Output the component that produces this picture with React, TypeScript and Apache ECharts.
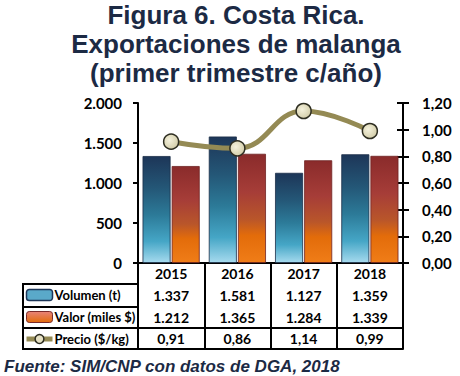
import React, { useEffect, useRef } from 'react';
import * as echarts from 'echarts';

const years = ['2015', '2016', '2017', '2018'];
const volumen = [1337, 1581, 1127, 1359];
const valor = [1212, 1365, 1284, 1339];
const precio = [0.91, 0.86, 1.14, 0.99];
const seriesNames = ['Volumen (t)', 'Valor (miles $)', 'Precio ($/kg)'];
const titleText = 'Figura 6. Costa Rica.\nExportaciones de malanga\n(primer trimestre c/año)';
const sourceText = 'Fuente: SIM/CNP con datos de DGA, 2018';

const thousands = (n: number) => String(Math.round(n)).replace(/\B(?=(\d{3})+(?!\d))/g, '.');
const decimal = (n: number) => n.toFixed(2).replace('.', ',');

const GRID = { left: 138, right: 57, top: 103, bottom: 113 };
const TABLE_LEFT = 23;
const ROW_LINES = [21, 44, 65, 86]; // offsets below the x axis

const cellFont = { fontFamily: 'Lato', fontWeight: 'bold' as const, fontSize: 14, color: '#000' };

export default function App() {
  const ref = useRef<HTMLDivElement>(null);
  useEffect(() => {
    if (!ref.current) return;
    const chart = echarts.init(ref.current, null, { renderer: 'svg' });

    const blueGrad = new echarts.graphic.LinearGradient(0, 0, 0, 1, [
      { offset: 0, color: '#1d3658' },
      { offset: 0.3, color: '#245777' },
      { offset: 0.55, color: '#2c7a98' },
      { offset: 0.8, color: '#45a6c6' },
      { offset: 1, color: '#a6daee' },
    ]);
    const redGrad = new echarts.graphic.LinearGradient(0, 0, 0, 1, [
      { offset: 0, color: '#8a2b2b' },
      { offset: 0.35, color: '#a63d38' },
      { offset: 0.6, color: '#b9562a' },
      { offset: 0.75, color: '#e36c0a' },
      { offset: 1, color: '#f07d18' },
    ]);
    const dotGrad = new echarts.graphic.RadialGradient(0.4, 0.4, 0.7, [
      { offset: 0, color: '#f4f1dc' },
      { offset: 1, color: '#cfc9a3' },
    ]);

    const rowAxis = (offset: number, values: number[] | null, fmt: (n: number) => string, margin: number) => ({
      type: 'category',
      gridIndex: 0,
      position: 'bottom',
      offset,
      data: years,
      axisLine: { show: true, lineStyle: { color: '#000', width: 2 } },
      axisTick: { show: false },
      splitLine: { show: false },
      axisLabel: {
        show: !!values,
        interval: 0,
        margin,
        verticalAlign: 'middle',
        formatter: (_v: string, i: number) => (values ? fmt(values[i]) : ''),
        ...cellFont,
      },
    });

    const lineY = (k: number) => 376 - GRID.bottom + ROW_LINES[k];

    chart.setOption({
      animation: false,
      backgroundColor: '#fff',
      title: [
        {
          text: titleText,
          left: 236,
          top: 0,
          padding: 0,
          textAlign: 'center',
          textStyle: {
            fontFamily: 'Liberation Sans',
            fontWeight: 'bold',
            fontSize: 26,
            lineHeight: 29,
            color: '#1c2a44',
          },
        },
        {
          text: sourceText,
          left: 4,
          top: 357,
          padding: 0,
          textStyle: {
            fontFamily: 'Liberation Sans',
            fontWeight: 'bold',
            fontStyle: 'italic',
            fontSize: 17,
            lineHeight: 18,
            color: '#1c2a44',
          },
        },
      ],
      legend: {
        orient: 'vertical',
        left: 24,
        top: 288,
        padding: 0,
        itemWidth: 26,
        itemHeight: 11,
        itemGap: 8,
        textStyle: { ...cellFont, fontSize: 13, lineHeight: 14, padding: [0, 0, 0, -3] },
        data: [
          { name: seriesNames[0], itemStyle: { color: '#5aa9c9', borderColor: '#1d3658', borderWidth: 1.5 } },
          {
            name: seriesNames[1],
            itemStyle: {
              color: new echarts.graphic.LinearGradient(0, 0, 0, 1, [
                { offset: 0, color: '#e8837a' },
                { offset: 1, color: '#e36c0a' },
              ]),
              borderColor: '#7a2a2a',
              borderWidth: 1,
            },
          },
          {
            name: seriesNames[2],
            lineStyle: { color: '#948a54', width: 5 },
            itemStyle: { color: '#e6e1c4', borderColor: '#2e2e22', borderWidth: 1.5 },
          },
        ],
      },
      grid: { ...GRID, containLabel: false },
      xAxis: [
        {
          type: 'category',
          data: years,
          position: 'bottom',
          axisLine: { show: true, lineStyle: { color: '#000', width: 2 } },
          axisTick: { show: true, interval: 0, length: ROW_LINES[3], lineStyle: { color: '#000', width: 2 } },
          axisLabel: { interval: 0, margin: 10.5, verticalAlign: 'middle', ...cellFont },
          splitLine: { show: false },
        },
        rowAxis(ROW_LINES[0], volumen, thousands, 11.5),
        rowAxis(ROW_LINES[1], valor, thousands, 10.5),
        rowAxis(ROW_LINES[2], precio, decimal, 10.5),
        rowAxis(ROW_LINES[3], null, thousands, 10),
      ],
      yAxis: [
        {
          type: 'value',
          min: 0,
          max: 2000,
          interval: 500,
          position: 'left',
          axisLine: { show: true, lineStyle: { color: '#000', width: 2 } },
          axisTick: { show: true, length: 5, lineStyle: { color: '#000', width: 2 } },
          axisLabel: { margin: 16, formatter: (v: number) => thousands(v), ...cellFont, fontSize: 15 },
          splitLine: { show: false },
        },
        {
          type: 'value',
          min: 0,
          max: 1.2,
          interval: 0.2,
          position: 'right',
          axisLine: { show: true, lineStyle: { color: '#000', width: 2 } },
          axisTick: { show: true, length: 6, lineStyle: { color: '#000', width: 2 } },
          axisLabel: { margin: 19, formatter: (v: number) => decimal(v), ...cellFont, fontSize: 15 },
          splitLine: { show: false },
        },
        {
          type: 'value',
          min: 0,
          max: 1.2,
          interval: 0.2,
          position: 'right',
          axisLine: { show: false },
          axisTick: { show: true, inside: true, length: 6, lineStyle: { color: '#000', width: 2 } },
          axisLabel: { show: false },
          splitLine: { show: false },
        },
      ],
      series: [
        {
          name: seriesNames[0],
          type: 'bar',
          data: volumen,
          barWidth: 28,
          barGap: '4%',
          itemStyle: { color: blueGrad, borderColor: '#1a2d48', borderWidth: 0.8 },
          z: 2,
        },
        {
          name: seriesNames[1],
          type: 'bar',
          data: valor,
          barWidth: 28,
          itemStyle: { color: redGrad, borderColor: '#6e2222', borderWidth: 0.8 },
          z: 2,
        },
        {
          name: seriesNames[2],
          type: 'line',
          yAxisIndex: 1,
          data: precio,
          smooth: 0.45,
          symbol: 'circle',
          symbolSize: 15,
          lineStyle: { color: '#948a54', width: 5 },
          itemStyle: { color: dotGrad, borderColor: '#2e2e22', borderWidth: 1.5 },
          z: 5,
        },
      ],
      graphic: [
        {
          type: 'rect',
          shape: { x: TABLE_LEFT, y: lineY(0), width: GRID.left - TABLE_LEFT, height: ROW_LINES[3] - ROW_LINES[0] },
          style: { fill: 'none', stroke: '#000', lineWidth: 2 },
        },
        {
          type: 'line',
          shape: { x1: TABLE_LEFT, y1: lineY(1), x2: GRID.left, y2: lineY(1) },
          style: { stroke: '#000', lineWidth: 2 },
        },
        {
          type: 'line',
          shape: { x1: TABLE_LEFT, y1: lineY(2), x2: GRID.left, y2: lineY(2) },
          style: { stroke: '#000', lineWidth: 2 },
        },
      ],
    });
    return () => chart.dispose();
  }, []);
  return <div ref={ref} style={{ position: 'fixed', left: 0, top: 0, width: 460, height: 376 }} />;
}
